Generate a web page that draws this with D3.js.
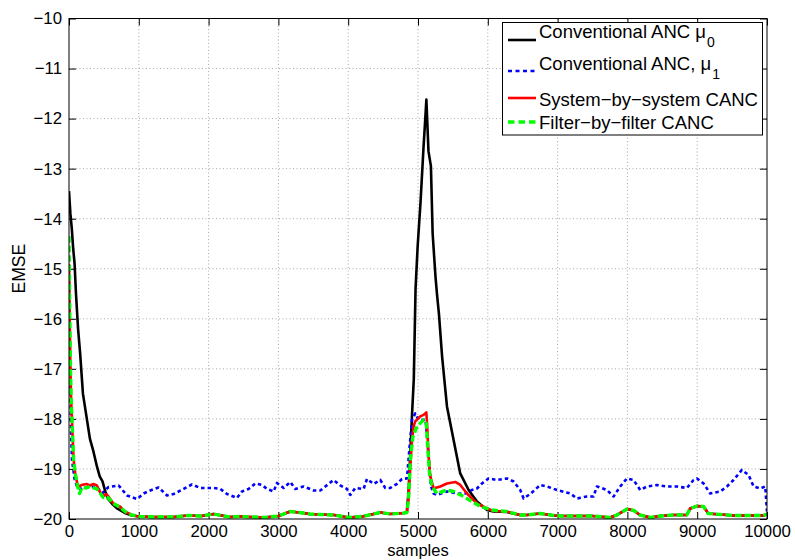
<!DOCTYPE html>
<html>
<head>
<meta charset="utf-8">
<script src="https://cdn.jsdelivr.net/npm/d3@7"></script>
<style>
  html, body { margin: 0; padding: 0; background: #fff; }
  svg { display: block; font-family: "Liberation Sans", Arial, Helvetica, sans-serif; }
</style>
</head>
<body>
<svg id="chart" width="795" height="560"></svg>
<script>
// ---------------- DATA ----------------
const xTicks = [0, 1000, 2000, 3000, 4000, 5000, 6000, 7000, 8000, 9000, 10000];
const yTicks = [-20, -19, -18, -17, -16, -15, -14, -13, -12, -11, -10];

const seriesNames = ["Conventional ANC μ", "Conventional ANC, μ", "System\u2212by\u2212system CANC", "Filter\u2212by\u2212filter CANC"];
const seriesSubs = ["0", "1", "", ""];

// Conventional ANC mu0 (black)
const blackX = [0,20,40,60,80,100,130,160,200,250,300,350,400,440,480,520,560,620,700,800,900,1000,
  1200,1500,1700,1900,2070,2300,2450,2600,2800,3000,3170,3300,3450,3600,3800,4000,4200,4460,4600,4800,
  4840,4865,4890,4915,4940,4965,4995,5035,5080,5100,5120,5150,5185,5210,5250,5275,5300,5345,5415,5510,5605,5725,5845,5990,6080,
  6270,6460,6560,6750,6950,7050,7500,7750,7850,8000,8090,8180,8330,8470,8660,8850,8900,9000,9090,9160,9330,9520,9950,10000];
const blackY = [-13.45,-13.9,-14.2,-14.6,-14.9,-15.5,-16.2,-16.7,-17.5,-17.95,-18.4,-18.65,-18.95,-19.15,-19.25,-19.45,-19.6,-19.7,-19.8,-19.88,-19.93,-19.95,
  -19.96,-19.96,-19.93,-19.94,-19.9,-19.96,-19.95,-19.96,-19.97,-19.94,-19.85,-19.87,-19.9,-19.91,-19.92,-19.97,-19.95,-19.87,-19.9,-19.88,
  -19.87,-19.45,-18.7,-17.9,-17.2,-15.4,-14.55,-13.7,-12.55,-12.1,-11.62,-12.65,-12.95,-14.3,-15.15,-15.55,-15.9,-16.75,-17.75,-18.42,-19.09,-19.42,-19.65,-19.82,-19.85,
  -19.86,-19.92,-19.92,-19.89,-19.93,-19.94,-19.94,-19.97,-19.92,-19.8,-19.83,-19.92,-19.97,-19.94,-19.92,-19.92,-19.79,-19.74,-19.75,-19.89,-19.91,-19.93,-19.93,-19.9];

// Conventional ANC mu1 (blue)
const blueX = [0,15,30,43,80,114,162,258,330,401,473,567,711,831,974,1069,1165,1284,1404,1499,1642,1762,1881,1977,2072,2168,2263,2406,2478,2573,2669,2765,2836,2932,2979,3075,3170,3242,3361,3504,3600,3672,3791,3887,3982,4030,4101,4221,4269,4364,4460,4531,4603,4698,4770,4842,
  4880,4914,4961,5009,5109,5152,5186,5224,5270,5415,5558,5677,5773,5845,5916,6011,6131,6275,6370,6465,6513,6608,6752,6847,6990,7181,7277,7420,7515,7563,7706,7802,7897,7993,8088,8184,8280,8423,8566,8709,8852,8948,8996,9091,9187,9330,9426,9521,9640,9736,9808,9903,9975,10000];
const blueY = [-15.0,-17.0,-18.3,-18.82,-19.2,-19.35,-19.4,-19.37,-19.35,-19.37,-19.49,-19.36,-19.33,-19.53,-19.6,-19.49,-19.43,-19.37,-19.53,-19.5,-19.4,-19.31,-19.38,-19.38,-19.38,-19.4,-19.5,-19.58,-19.45,-19.4,-19.29,-19.32,-19.4,-19.45,-19.28,-19.38,-19.26,-19.4,-19.35,-19.43,-19.43,-19.35,-19.22,-19.33,-19.4,-19.52,-19.38,-19.4,-19.2,-19.3,-19.22,-19.38,-19.38,-19.3,-19.2,-19.19,
  -18.55,-18.02,-17.89,-18.02,-18.02,-18.75,-19.35,-19.49,-19.52,-19.45,-19.49,-19.49,-19.42,-19.39,-19.29,-19.19,-19.22,-19.19,-19.25,-19.42,-19.59,-19.5,-19.32,-19.35,-19.42,-19.49,-19.59,-19.55,-19.55,-19.35,-19.42,-19.55,-19.35,-19.19,-19.22,-19.42,-19.35,-19.32,-19.35,-19.35,-19.38,-19.22,-19.19,-19.29,-19.49,-19.45,-19.35,-19.22,-19.02,-19.12,-19.35,-19.39,-19.35,-19.85];

// System-by-system CANC (red)
const redX = [0,10,20,30,45,65,90,120,150,180,250,300,350,400,440,490,530,565,600,640,730,800,900,1000,
  1200,1500,1700,1900,2070,2300,2450,2600,2800,3000,3170,3300,3450,3600,3800,4000,4200,4460,4600,4800,
  4840,4865,4890,4914,4937,4960,5033,5080,5119,5130,5152,5176,5224,5270,5320,5415,5534,5606,5702,5845,5990,6080,
  6270,6460,6560,6750,6950,7050,7500,7750,7850,8000,8090,8180,8330,8470,8660,8850,8900,9000,9090,9160,9330,9520,9950,10000];
const redY = [-14.9,-16.0,-17.0,-17.6,-18.1,-18.8,-19.1,-19.3,-19.35,-19.32,-19.3,-19.33,-19.3,-19.33,-19.45,-19.55,-19.5,-19.55,-19.62,-19.7,-19.75,-19.85,-19.92,-19.95,
  -19.96,-19.96,-19.93,-19.94,-19.9,-19.96,-19.95,-19.96,-19.97,-19.94,-19.85,-19.87,-19.9,-19.91,-19.92,-19.97,-19.95,-19.87,-19.9,-19.88,
  -19.87,-19.6,-18.95,-18.42,-18.15,-18.05,-17.95,-17.92,-17.87,-18.1,-18.75,-19.15,-19.39,-19.37,-19.35,-19.29,-19.26,-19.32,-19.49,-19.69,-19.79,-19.84,
  -19.85,-19.92,-19.92,-19.89,-19.93,-19.94,-19.94,-19.97,-19.92,-19.8,-19.83,-19.92,-19.97,-19.94,-19.92,-19.92,-19.79,-19.74,-19.75,-19.89,-19.91,-19.93,-19.93,-19.9];

// Filter-by-filter CANC (green)
const greenX = [0,10,20,30,43,66,90,123,152,186,250,300,350,400,444,491,530,563,635,731,802,898,1017,
  1200,1500,1700,1900,2070,2300,2450,2600,2800,3000,3170,3300,3450,3600,3800,4000,4200,4460,4600,4800,
  4840,4865,4890,4928,4986,5080,5119,5138,5165,5200,5272,5415,5510,5653,5773,5893,6060,
  6270,6460,6560,6750,6950,7050,7500,7750,7850,8000,8090,8180,8330,8470,8660,8850,8900,9000,9090,9160,9330,9520,9950,10000];
const greenY = [-14.35,-15.8,-16.9,-17.6,-18.02,-18.82,-19.09,-19.35,-19.49,-19.37,-19.38,-19.35,-19.38,-19.4,-19.48,-19.57,-19.55,-19.58,-19.69,-19.77,-19.85,-19.92,-19.95,
  -19.96,-19.96,-19.93,-19.94,-19.9,-19.96,-19.95,-19.96,-19.97,-19.94,-19.85,-19.87,-19.9,-19.91,-19.92,-19.97,-19.95,-19.87,-19.9,-19.88,
  -19.87,-19.6,-18.82,-18.35,-18.15,-18.02,-18.09,-18.55,-19.09,-19.35,-19.49,-19.42,-19.45,-19.55,-19.65,-19.75,-19.82,
  -19.85,-19.92,-19.92,-19.89,-19.93,-19.94,-19.94,-19.97,-19.92,-19.8,-19.83,-19.92,-19.97,-19.94,-19.92,-19.92,-19.79,-19.74,-19.75,-19.89,-19.91,-19.93,-19.93,-19.9];

// ---------------- CHART ----------------
const svg = d3.select("#chart");
const L = 69, R = 767, T = 18.5, B = 519;
const x = d3.scaleLinear().domain([0, 10000]).range([L, R]);
const y = d3.scaleLinear().domain([-20, -10]).range([B, T]);
const tickLen = 7;

// grid
const grid = svg.append("g");
grid.selectAll("line.gx").data(xTicks.slice(1, -1)).join("line")
  .attr("x1", d => x(d)).attr("x2", d => x(d)).attr("y1", T).attr("y2", B)
  .attr("stroke", "#a8a8a8").attr("stroke-width", 1).attr("stroke-dasharray", "1,2.5");
grid.selectAll("line.gy").data(yTicks.slice(1, -1)).join("line")
  .attr("x1", L).attr("x2", R).attr("y1", d => y(d)).attr("y2", d => y(d))
  .attr("stroke", "#a8a8a8").attr("stroke-width", 1).attr("stroke-dasharray", "1,2.5");

// axes
const fmt = d => (d < 0 ? "\u2212" + Math.abs(d) : String(d));
const axB = svg.append("g").attr("transform", `translate(0,${B})`)
  .call(d3.axisBottom(x).tickValues(xTicks).tickFormat(fmt).tickSizeInner(-tickLen).tickSizeOuter(0).tickPadding(6));
const axT = svg.append("g").attr("transform", `translate(0,${T})`)
  .call(d3.axisTop(x).tickValues(xTicks).tickFormat("").tickSizeInner(-tickLen).tickSizeOuter(0));
const axL = svg.append("g").attr("transform", `translate(${L},0)`)
  .call(d3.axisLeft(y).tickValues(yTicks).tickFormat(fmt).tickSizeInner(-tickLen).tickSizeOuter(0).tickPadding(7));
const axR = svg.append("g").attr("transform", `translate(${R},0)`)
  .call(d3.axisRight(y).tickValues(yTicks).tickFormat("").tickSizeInner(-tickLen).tickSizeOuter(0));
[axB, axT, axL, axR].forEach(a => {
  a.select(".domain").remove();
  a.selectAll(".tick line").attr("stroke", "#000");
  a.selectAll("text").attr("fill", "#000").attr("font-size", "16.8px")
    .attr("font-family", "'Liberation Sans', Arial, sans-serif");
});

// data lines
svg.append("clipPath").attr("id", "clip").append("rect")
  .attr("x", L).attr("y", T).attr("width", R - L).attr("height", B - T);
const plot = svg.append("g").attr("clip-path", "url(#clip)");
const line = d3.line().x(d => x(d[0])).y(d => y(d[1]));
const zip = (xs, ys) => xs.map((v, i) => [v, ys[i]]);

const styles = [
  { color: "#000000", width: 2.6, dash: null, legendDash: null },
  { color: "#0000ff", width: 2.6, dash: "3.5,3", legendDash: "4,3.5" },
  { color: "#ff0000", width: 2.6, dash: null, legendDash: null },
  { color: "#00ff00", width: 3.4, dash: "6.5,3", legendDash: "6.5,4" }
];
const allData = [zip(blackX, blackY), zip(blueX, blueY), zip(redX, redY), zip(greenX, greenY)];

allData.forEach((data, i) => {
  plot.append("path").datum(data).attr("d", line)
    .attr("fill", "none").attr("stroke", styles[i].color)
    .attr("stroke-width", styles[i].width)
    .attr("stroke-linejoin", "round")
    .attr("stroke-dasharray", styles[i].dash);
});

// box
svg.append("rect").attr("x", L).attr("y", T).attr("width", R - L).attr("height", B - T)
  .attr("fill", "none").attr("stroke", "#000").attr("stroke-width", 1);

// axis labels
svg.append("text").attr("x", (L + R) / 2).attr("y", 555.5).attr("text-anchor", "middle")
  .attr("font-size", "16.5px").attr("fill", "#000").text("samples");
svg.append("text").attr("transform", `translate(25,${(T + B) / 2}) rotate(-90)`)
  .attr("text-anchor", "middle").attr("font-size", "17.5px").attr("fill", "#000").text("EMSE");

// legend
const lg = svg.append("g");
lg.append("rect").attr("x", 502.5).attr("y", 22.5).attr("width", 260).attr("height", 112.5)
  .attr("fill", "#fff").attr("stroke", "#000").attr("stroke-width", 1);
const lineYs = [40, 71, 98, 122];
const textYs = [38.3, 70, 106, 129.3];
seriesNames.forEach((name, i) => {
  lg.append("line").attr("x1", 508).attr("x2", 536).attr("y1", lineYs[i]).attr("y2", lineYs[i])
    .attr("stroke", styles[i].color).attr("stroke-width", styles[i].width)
    .attr("stroke-dasharray", styles[i].legendDash);
  const t = lg.append("text").attr("x", 539).attr("y", textYs[i])
    .attr("font-size", "18.5px").attr("fill", "#000");
  t.append("tspan").text(name);
  if (seriesSubs[i]) {
    t.append("tspan").attr("dy", 8.5).attr("dx", 1).attr("font-size", "14px").text(seriesSubs[i]);
  }
});
</script>
</body>
</html>
